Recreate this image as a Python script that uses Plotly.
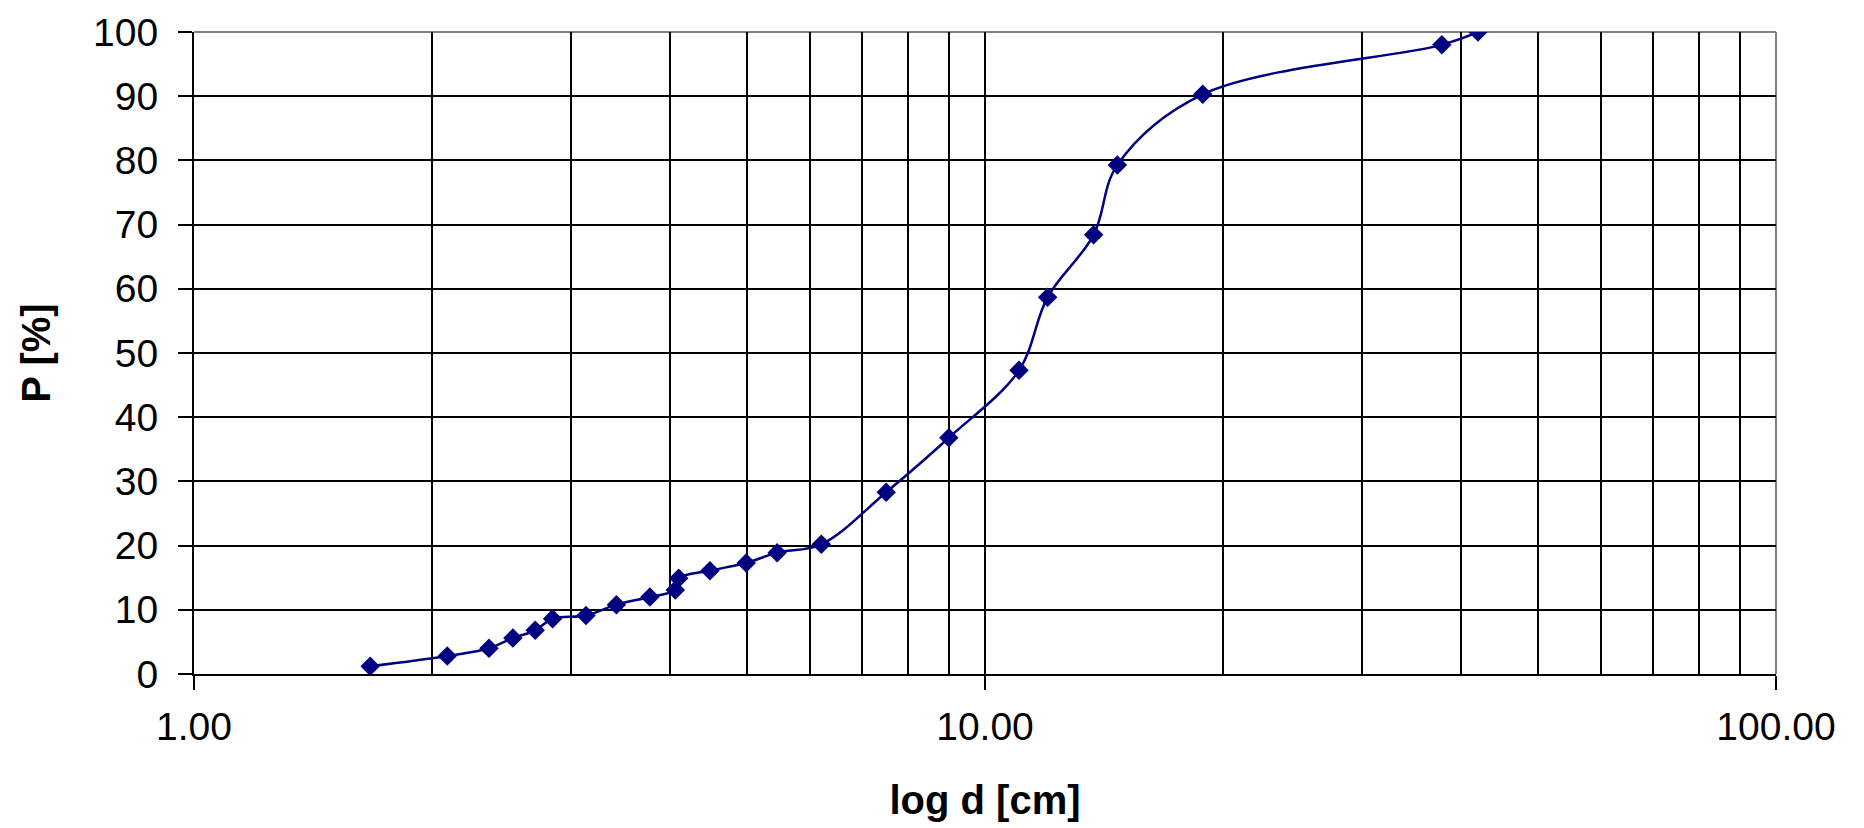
import plotly.graph_objects as go

# Data (grain size distribution)
d_cm = [1.67, 2.09, 2.36, 2.53, 2.70, 2.84, 3.13, 3.42, 3.77, 4.06, 4.10, 4.49,
        4.99, 5.46, 6.21, 7.50, 9.00, 11.04, 12.0, 13.72, 14.7, 18.85, 37.8, 42.0]
p_pct = [1.2, 2.8, 4.0, 5.6, 6.8, 8.6, 9.1, 10.8, 12.0, 13.1, 14.9, 16.1,
         17.3, 18.9, 20.2, 28.3, 36.8, 47.3, 58.7, 68.4, 79.3, 90.3, 98.0, 100.0]

x_title = "log d [cm]"
y_title = "P [%]"

FONT = "Liberation Sans, Arial, sans-serif"
NAVY = "#000080"

fig = go.Figure()
fig.add_trace(go.Scatter(
    x=d_cm, y=p_pct, mode="lines+markers",
    line=dict(color=NAVY, width=2.5, shape="spline", smoothing=1.0),
    marker=dict(symbol="diamond", size=15, color=NAVY),
    showlegend=False, hoverinfo="x+y",
))

# gray top/right frame of the plot area
fig.add_shape(type="line", xref="x domain", yref="y domain", x0=0, x1=1, y0=1, y1=1,
              line=dict(color="#808080", width=2), layer="below")
fig.add_shape(type="line", xref="x domain", yref="y domain", x0=1, x1=1, y0=0, y1=1,
              line=dict(color="#808080", width=2), layer="below")

fig.update_layout(
    width=1864, height=828,
    margin=dict(l=194, r=88, t=32, b=154, autoexpand=False),
    paper_bgcolor="white", plot_bgcolor="white",
    font=dict(family=FONT, color="black", size=39),
    xaxis=dict(
        type="log", range=[0, 2], dtick=1, tickformat=".2f",
        showgrid=True, gridcolor="black", gridwidth=1.8,
        showline=True, linecolor="black", linewidth=2,
        ticks="outside", ticklen=14, tickwidth=1.8, tickcolor="black",
        ticklabelstandoff=3,
        tickfont=dict(family=FONT, size=39, color="black"),
        minor=dict(dtick="D1", showgrid=True, gridcolor="black", gridwidth=1.8, ticks=""),
        zeroline=False,
        title=dict(text="<b>" + x_title + "</b>", font=dict(family=FONT, size=40, color="black"),
                   standoff=39),
        automargin=False,
    ),
    yaxis=dict(
        range=[0, 100], dtick=10,
        showgrid=True, gridcolor="black", gridwidth=1.8,
        showline=True, linecolor="black", linewidth=2,
        ticks="outside", ticklen=14, tickwidth=1.8, tickcolor="black",
        ticklabelstandoff=12,
        tickfont=dict(family=FONT, size=39, color="black"),
        zeroline=False,
        title=dict(text="<b>" + y_title + "</b>", font=dict(family=FONT, size=40, color="black"),
                   standoff=30),
        automargin=False,
    ),
)

fig.write_html("out.html")
